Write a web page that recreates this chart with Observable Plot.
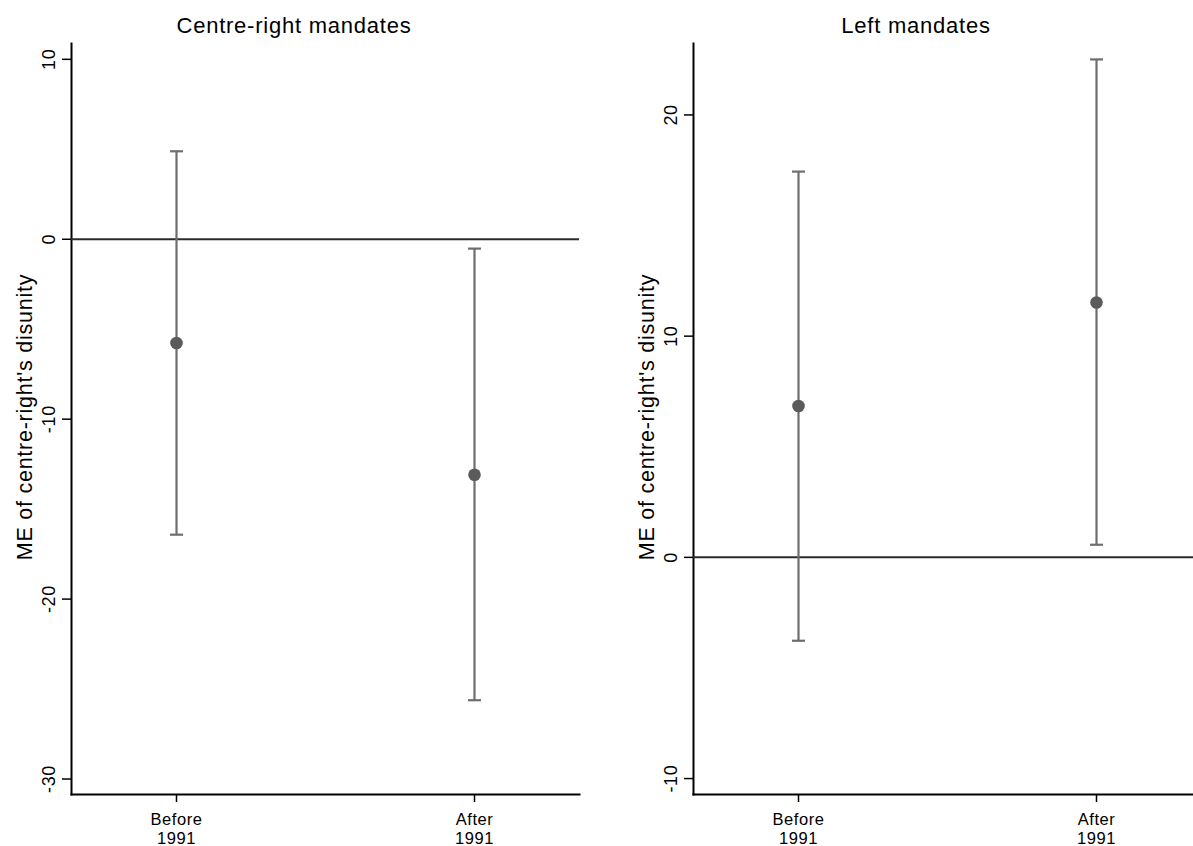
<!DOCTYPE html>
<html>
<head>
<meta charset="utf-8">
<script src="https://cdn.jsdelivr.net/npm/d3@7"></script>
<script src="https://cdn.jsdelivr.net/npm/@observablehq/plot@0.6"></script>
<style>
  html, body { margin: 0; padding: 0; background: #fff; }
  #wrap { position: relative; width: 1193px; height: 846px; overflow: hidden; font-family: "Liberation Sans", Arial, sans-serif; }
  .panel { position: absolute; top: 0; }
  .panel text { letter-spacing: 0.035em; }
  .title { position: absolute; top: 13px; font-size: 22px; letter-spacing: 0.035em; color: #000; transform: translateX(-50%); white-space: nowrap; }
</style>
</head>
<body>
<div id="wrap"></div>
<script>
// ---- data ----
const periods = ["Before\n1991", "After\n1991"];
const panelTitles = ["Centre-right mandates", "Left mandates"];
const yLabel = "ME of centre-right's disunity";

const crEst = [-5.77, -13.09];
const crLo  = [-16.42, -25.62];
const crHi  = [4.89, -0.52];
const crTicks = [-30, -20, -10, 0, 10];
const crDomain = [-30.86, 10.88];

const leftEst = [6.84, 11.52];
const leftLo  = [-3.77, 0.57];
const leftHi  = [17.44, 22.51];
const leftTicks = [-10, 0, 10, 20];
const leftDomain = [-10.72, 23.23];

const font = "'Liberation Sans', Arial, sans-serif";
const barColor = "#6e6e6e";
const dotColor = "#5b5b5b";

// horizontal cap glyph for the CI ends
const capSymbol = {draw(ctx) { ctx.moveTo(-6.5, 0); ctx.lineTo(6.5, 0); }};

function rows(est, lo, hi) {
  return periods.map((p, i) => ({period: p, est: est[i], lo: lo[i], hi: hi[i]}));
}

function panel(data, ticks, domain) {
  return Plot.plot({
    width: 608,
    height: 846,
    marginLeft: 100,
    marginRight: 0,
    marginTop: 43,
    marginBottom: 52,
    style: {fontFamily: font, background: "transparent", color: "#000", overflow: "visible"},
    x: {type: "point", domain: periods, padding: 0.352},
    y: {domain: domain},
    marks: [
      Plot.axisY({
        ticks: ticks, tickSize: 9, tickPadding: 8, tickRotate: -90,
        fontSize: 18, label: null,
        tickFormat: d => d < 0 ? "-" + Math.abs(d) : String(d),
        strokeWidth: 1.5
      }),
      Plot.axisX({tickSize: 8, tickPadding: 9, fontSize: 16.5, lineHeight: 1.14, label: null, strokeWidth: 1.5}),
      Plot.text([yLabel], {frameAnchor: "left", textAnchor: "middle", dx: -46, dy: -2, rotate: -90, fontSize: 21.5, fill: "#000"}),
      Plot.frame({anchor: "left", stroke: "#000", strokeWidth: 2}),
      Plot.frame({anchor: "bottom", stroke: "#000", strokeWidth: 2}),
      Plot.ruleY([0], {stroke: "#2b2b2b", strokeWidth: 2}),
      Plot.ruleX(data, {x: "period", y1: "lo", y2: "hi", stroke: barColor, strokeWidth: 2.2}),
      Plot.dot(data, {x: "period", y: "lo", symbol: capSymbol, fill: "none", stroke: barColor, strokeWidth: 2.2}),
      Plot.dot(data, {x: "period", y: "hi", symbol: capSymbol, fill: "none", stroke: barColor, strokeWidth: 2.2}),
      Plot.dot(data, {x: "period", y: "est", r: 6.3, fill: dotColor, stroke: "none"})
    ]
  });
}

const wrap = document.getElementById("wrap");
const specs = [
  {data: rows(crEst, crLo, crHi), ticks: crTicks, domain: crDomain, left: -29, titleX: 294},
  {data: rows(leftEst, leftLo, leftHi), ticks: leftTicks, domain: leftDomain, left: 593, titleX: 916}
];
specs.forEach((s, i) => {
  const p = panel(s.data, s.ticks, s.domain);
  p.classList.add("panel");
  p.style.left = s.left + "px";
  wrap.appendChild(p);
  const t = document.createElement("div");
  t.className = "title";
  t.style.left = s.titleX + "px";
  t.textContent = panelTitles[i];
  wrap.appendChild(t);
});
</script>
</body>
</html>
